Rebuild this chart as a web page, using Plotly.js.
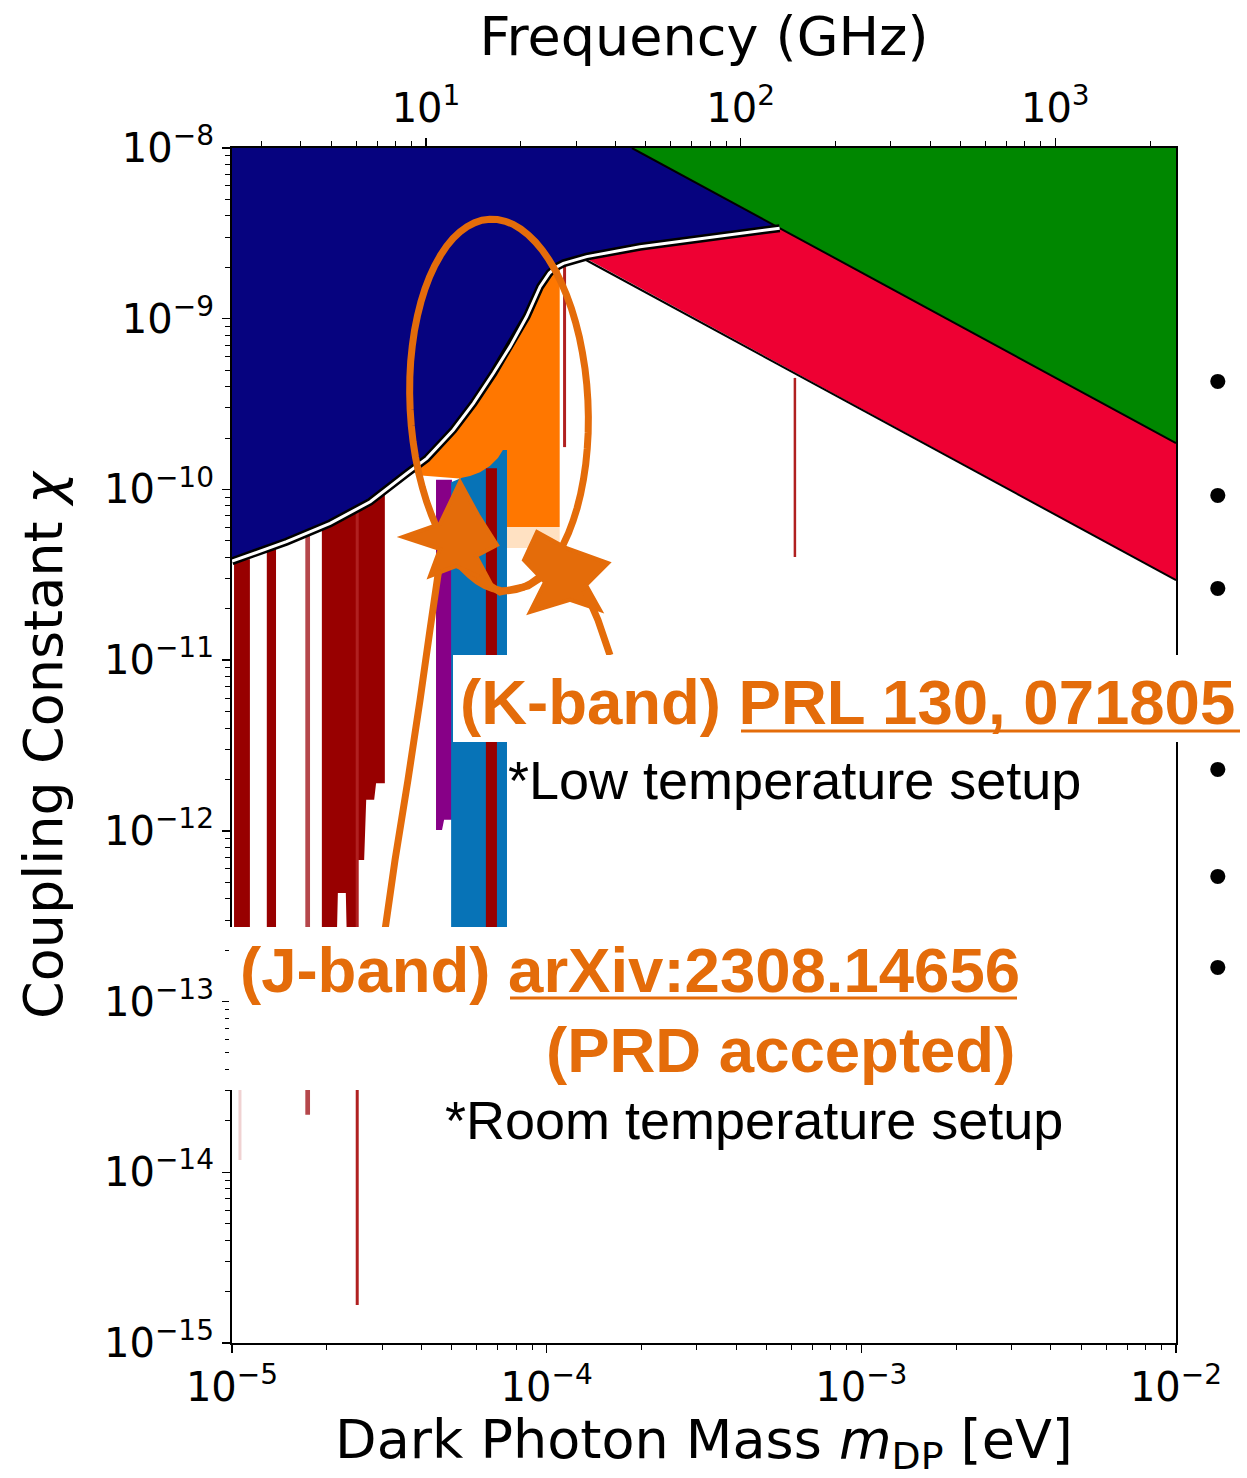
<!DOCTYPE html>
<html><head><meta charset="utf-8">
<script src="https://cdn.plot.ly/plotly-3.0.1.min.js"></script>
<style>body{margin:0;background:#fff}#chart{width:1247px;height:1478px}</style>
</head><body><div id="chart"></div>
<script>
// ---------------- data ----------------
// exclusion boundary (navy region lower edge, drawn with black/white line)
const boundMass = [1.00e-5, 1.49e-5, 2.05e-5, 2.75e-5, 3.59e-5, 4.16e-5, 5.05e-5, 5.85e-5, 6.77e-5, 7.65e-5, 8.64e-5, 9.53e-5, 1.02e-4, 1.07e-4, 1.13e-4, 1.34e-4, 1.98e-4, 5.50e-4];
const boundChi  = [3.80e-11, 4.94e-11, 6.33e-11, 8.47e-11, 1.24e-10, 1.52e-10, 2.23e-10, 3.19e-10, 4.79e-10, 6.86e-10, 1.03e-9, 1.54e-9, 1.85e-9, 2.00e-9, 2.11e-9, 2.31e-9, 2.64e-9, 3.39e-9];
// green region lower edge
const greenLineMass = [1.866e-4, 1.0e-2];
const greenLineChi  = [1.0e-8, 1.87e-10];
// crimson band lower edge
const redLowerMass = [1.32e-4, 1.0e-2];
const redLowerChi  = [2.23e-9, 2.94e-11];
// dark red haloscope bars (rectangles)
const haloBarMass   = [[1.015e-5, 1.14e-5], [1.29e-5, 1.38e-5], [6.41e-5, 6.95e-5]];
const haloBarTop    = [3.9e-11, 4.6e-11, 1.33e-10];
const haloBarBottom = [1.0e-13, 1.0e-13, 1.0e-13];
// lighter narrow bar
const haloLightMass = [1.71e-5, 1.77e-5];
const haloLightTop = 5.6e-11, haloLightBottom = 2.17e-14;
// wide dark red bar with ragged lower edge
const haloWideMass = [1.93e-5, 2.05e-5, 2.75e-5, 3.06e-5, 3.06e-5, 2.87e-5, 2.83e-5, 2.67e-5, 2.63e-5, 2.51e-5, 2.48e-5, 2.34e-5, 2.30e-5, 2.17e-5, 2.13e-5, 1.93e-5];
const haloWideChi  = [5.8e-11, 6.33e-11, 8.47e-11, 9.6e-11, 1.90e-12, 1.90e-12, 1.52e-12, 1.52e-12, 6.75e-13, 6.75e-13, 1.0e-13, 1.0e-13, 4.32e-13, 4.32e-13, 1.0e-13, 1.0e-13];
// thin dark red lines
const haloLineMass   = [2.50e-5, 1.14e-4, 6.15e-4];
const haloLineTop    = [7.6e-11, 2.06e-9, 4.50e-10];
const haloLineBottom = [1.67e-15, 1.77e-10, 4.02e-11];
const faintLineMass = 1.06e-5, faintLineTop = 1.0e-13, faintLineBottom = 1.18e-14;
// purple result
const purpleMass = [4.45e-5, 5.00e-5, 5.00e-5, 4.72e-5, 4.65e-5, 4.45e-5];
const purpleChi  = [1.14e-10, 1.14e-10, 1.16e-12, 1.16e-12, 1.01e-12, 1.01e-12];
// blue result (J-band)
const blueTopMass = [4.97e-5, 5.38e-5, 5.71e-5, 6.14e-5, 6.60e-5, 7.00e-5, 7.26e-5, 7.48e-5];
const blueTopChi  = [1.10e-10, 1.17e-10, 1.20e-10, 1.26e-10, 1.37e-10, 1.53e-10, 1.70e-10, 1.70e-10];
const blueBottomChi = 1.0e-13;
// orange result (K-band)
const kbandMass = [3.90e-5, 4.16e-5, 5.05e-5, 5.85e-5, 6.77e-5, 7.65e-5, 8.64e-5, 9.53e-5, 1.02e-4, 1.10e-4, 1.10e-4, 7.48e-5, 7.48e-5, 3.90e-5];
const kbandChi  = [1.39e-10, 1.52e-10, 2.23e-10, 3.19e-10, 4.79e-10, 6.86e-10, 1.03e-9, 1.54e-9, 1.85e-9, 2.04e-9, 6.03e-11, 6.03e-11, 1.10e-10, 1.21e-10];
const kbandFadeMass = [7.48e-5, 1.10e-4, 1.10e-4, 7.48e-5];
const kbandFadeChi  = [6.03e-11, 6.03e-11, 4.54e-11, 4.54e-11];
// axes
const massRange = [1e-5, 1e-2];
const chiRange = [1e-15, 1e-8];
const massTicks = [1e-5, 1e-4, 1e-3, 1e-2];
const massTickText = ['10<sup>−5</sup>', '10<sup>−4</sup>', '10<sup>−3</sup>', '10<sup>−2</sup>'];
const chiTicks = [1e-15, 1e-14, 1e-13, 1e-12, 1e-11, 1e-10, 1e-9, 1e-8];
const chiTickText = ['10<sup>−15</sup>', '10<sup>−14</sup>', '10<sup>−13</sup>', '10<sup>−12</sup>', '10<sup>−11</sup>', '10<sup>−10</sup>', '10<sup>−9</sup>', '10<sup>−8</sup>'];
const freqTicks = [10, 100, 1000];
const freqTickText = ['10<sup>1</sup>', '10<sup>2</sup>', '10<sup>3</sup>'];
const EV_PER_GHZ = 4.135667e-6;

// ---------------- colours ----------------
const C = {navy:'#06037f', green:'#008700', crimson:'#ee0033', darkred:'#980000', darkredLine:'#b02020',
  lightred:'#b5474b', faint:'#f0d2d2', purple:'#870087', blue:'#0773b7', orange:'#ff7700', orangeFade:'#ffe1c2', mark:'#e46c0a'};

// ---------------- traces ----------------
const traces = [];
function poly(xs, ys, color){ traces.push({type:'scatter', mode:'lines', x:xs, y:ys, fill:'toself', fillcolor:color, line:{width:0, color:color}, hoverinfo:'skip'}); }
function seg(xs, ys, color, width){ traces.push({type:'scatter', mode:'lines', x:xs, y:ys, line:{color:color, width:width}, hoverinfo:'skip'}); }

haloBarMass.forEach((m,i)=>{ if(i<2) poly([m[0],m[1],m[1],m[0]],[haloBarTop[i],haloBarTop[i],haloBarBottom[i],haloBarBottom[i]], C.darkred); });
poly([haloLightMass[0],haloLightMass[1],haloLightMass[1],haloLightMass[0]],[haloLightTop,haloLightTop,haloLightBottom,haloLightBottom], C.lightred);
seg([faintLineMass, faintLineMass],[faintLineTop, faintLineBottom], C.faint, 3);
poly(haloWideMass, haloWideChi, C.darkred);
seg([haloLineMass[0],haloLineMass[0]],[haloLineTop[0],haloLineBottom[0]], C.darkredLine, 3);
// K-band
poly(kbandMass, kbandChi, C.orange);
poly(kbandFadeMass, kbandFadeChi, C.orangeFade);
// purple & blue
poly(purpleMass, purpleChi, C.purple);
poly(blueTopMass.concat([blueTopMass[blueTopMass.length-1], blueTopMass[0]]), blueTopChi.concat([blueBottomChi, blueBottomChi]), C.blue);
{ const m = haloBarMass[2]; poly([m[0],m[1],m[1],m[0]],[haloBarTop[2],haloBarTop[2],haloBarBottom[2],haloBarBottom[2]], C.darkred); }
seg([haloLineMass[1],haloLineMass[1]],[haloLineTop[1],haloLineBottom[1]], C.darkredLine, 3);
seg([haloLineMass[2],haloLineMass[2]],[haloLineTop[2],haloLineBottom[2]], C.darkredLine, 2.5);
// navy region
poly(boundMass.slice().reverse().concat([massRange[0], greenLineMass[0]]),
     boundChi.slice().reverse().concat([chiRange[1], chiRange[1]]), C.navy);
// green region
poly([greenLineMass[0], massRange[1], massRange[1]], [chiRange[1], chiRange[1], greenLineChi[1]], C.green);
// crimson band
const kink = boundMass.findIndex(v => v >= 1.34e-4);
poly([redLowerMass[0]].concat(boundMass.slice(kink), [massRange[1], massRange[1]]),
     [redLowerChi[0] * 1.02].concat(boundChi.slice(kink), [greenLineChi[1], redLowerChi[1]]), C.crimson);
// outlines
seg(greenLineMass, greenLineChi, '#000', 2);
seg(redLowerMass, redLowerChi, '#000', 2);
seg(boundMass, boundChi, '#000', 8);
seg(boundMass, boundChi, '#fff', 3);
// dummy trace for the frequency axis
traces.push({type:'scatter', mode:'markers', x:[10], y:[1e-12], xaxis:'x2', yaxis:'y', marker:{opacity:0}, hoverinfo:'skip'});

// ---------------- minor ticks ----------------
function minors(d0, d1){ const v=[]; for(let d=d0; d<d1; d++) for(let k=2;k<=9;k++){ v.push(k*Math.pow(10,d)); } return v; }
const massMinor = minors(-5,-2);
const chiMinor = minors(-15,-8);
const freqMinor = [3,4,5,6,7,8,9].concat(minors(1,3), [2000]);

// ---------------- geometry helpers for overlay ----------------
const PL=232, PR=1176, PT=148, PB=1343;
const fx = p => (p-PL)/(PR-PL);
const fy = p => (PB-p)/(PB-PT);
function pathOf(pts, close){ return pts.map((p,i)=>(i?'L':'M')+fx(p[0]).toFixed(4)+','+fy(p[1]).toFixed(4)).join(' ') + (close?' Z':''); }
const ell = []; for(let i=0;i<=72;i++){ const a=i/72*2*Math.PI; const t=-0.05; const ex=89*Math.cos(a), ey=186*Math.sin(a);
  ell.push([499 + ex*Math.cos(t) - ey*Math.sin(t), 405 + ex*Math.sin(t) + ey*Math.cos(t)]); }
const arrow1 = [[385,930],[395,860],[408,780],[420,700],[430,630],[438,575],[448,530]];
const head1 = [[460,482],[478,515],[497,545],[476,556],[490,582],[456,566],[430,576],[440,549],[403,537],[440,524]];
const connector = [[478,578],[500,592],[528,586],[545,575]];
const head2 = [[537,532],[566,548],[608,563],[586,585],[600,610],[570,600],[530,612],[545,582],[524,560]];
const arrow2 = [[585,590],[598,620],[610,655]];
const markLine = {color:C.mark, width:7};

const shapes = [
  {type:'path', xref:'paper', yref:'paper', path:pathOf(ell,true), line:markLine, layer:'above'},
  {type:'path', xref:'paper', yref:'paper', path:pathOf(arrow1,false), line:markLine, layer:'above'},
  {type:'path', xref:'paper', yref:'paper', path:pathOf(head1,true), line:{color:C.mark,width:4}, fillcolor:C.mark, layer:'above'},
  {type:'path', xref:'paper', yref:'paper', path:pathOf(connector,false), line:markLine, layer:'above'},
  {type:'path', xref:'paper', yref:'paper', path:pathOf(head2,true), line:{color:C.mark,width:4}, fillcolor:C.mark, layer:'above'},
  {type:'path', xref:'paper', yref:'paper', path:pathOf(arrow2,false), line:markLine, layer:'above'},
  // white label boxes
  {type:'rect', xref:'paper', yref:'paper', x0:fx(453), x1:fx(1247), y0:fy(742), y1:fy(655), fillcolor:'#fff', line:{width:0}, layer:'above'},
  {type:'rect', xref:'paper', yref:'paper', x0:fx(229), x1:fx(1022), y0:fy(1090), y1:fy(927), fillcolor:'#fff', line:{width:0}, layer:'above'},
  // underlines
  {type:'line', xref:'paper', yref:'paper', x0:fx(741), x1:fx(1240), y0:fy(731), y1:fy(731), line:{color:C.mark, width:3}, layer:'above'},
  {type:'line', xref:'paper', yref:'paper', x0:fx(510), x1:fx(1017), y0:fy(998), y1:fy(998), line:{color:C.mark, width:3}, layer:'above'}
];

const bold = {family:'Liberation Sans, Arial, sans-serif', size:63.5, color:C.mark};
const plain = {family:'Liberation Sans, Arial, sans-serif', size:54, color:'#000'};
const annotations = [
  {xref:'paper', yref:'paper', x:fx(458), y:fy(702), xanchor:'left', yanchor:'middle', showarrow:false, text:'<b>(K-band) PRL 130, 071805</b>', font:bold},
  {xref:'paper', yref:'paper', x:fx(506), y:fy(780), xanchor:'left', yanchor:'middle', showarrow:false, text:'*Low temperature setup', font:plain},
  {xref:'paper', yref:'paper', x:fx(238), y:fy(970), xanchor:'left', yanchor:'middle', showarrow:false, text:'<b>(J-band) arXiv:2308.14656</b>', font:bold},
  {xref:'paper', yref:'paper', x:fx(1017), y:fy(1050), xanchor:'right', yanchor:'middle', showarrow:false, text:'<b>(PRD accepted)</b>', font:bold},
  {xref:'paper', yref:'paper', x:fx(443), y:fy(1120), xanchor:'left', yanchor:'middle', showarrow:false, text:'*Room temperature setup', font:plain}
];
[380, 495, 587, 768, 875, 966].forEach(yy => annotations.push({xref:'paper', yref:'paper', x:fx(1218), y:fy(yy), xanchor:'center', yanchor:'middle', showarrow:false, text:'•', font:{family:'Liberation Sans, Arial', size:56, color:'#000'}}));

const tickFont = {family:'DejaVu Sans', size:40, color:'#000'};
const titleFont = {family:'DejaVu Sans', size:54, color:'#000'};
const axBase = {type:'log', ticks:'outside', ticklen:8, tickwidth:1.5, tickcolor:'#000', showline:true, linecolor:'#000', linewidth:2,
  showgrid:false, zeroline:false, tickfont:tickFont, automargin:false, tickmode:'array'};

const layout = {
  width:1247, height:1478,
  margin:{l:PL, r:1247-PR, t:PT, b:1478-PB, pad:0},
  paper_bgcolor:'#fff', plot_bgcolor:'#fff', showlegend:false,
  font:{family:'DejaVu Sans', color:'#000'},
  xaxis:Object.assign({}, axBase, {range:[Math.log10(massRange[0]), Math.log10(massRange[1])], tickvals:massTicks, ticktext:massTickText, mirror:true,
    minor:{tickmode:'array', tickvals:massMinor, ticks:'outside', ticklen:5, tickwidth:1, tickcolor:'#000', showgrid:false},
    title:{text:'Dark Photon Mass <i>m</i><sub>DP</sub> [eV]', font:titleFont, standoff:36}}),
  xaxis2:Object.assign({}, axBase, {overlaying:'x', side:'top', anchor:'y',
    range:[Math.log10(massRange[0]/EV_PER_GHZ), Math.log10(massRange[1]/EV_PER_GHZ)], tickvals:freqTicks, ticktext:freqTickText,
    minor:{tickmode:'array', tickvals:freqMinor, ticks:'outside', ticklen:5, tickwidth:1, tickcolor:'#000', showgrid:false},
    title:{text:'Frequency (GHz)', font:titleFont, standoff:6}}),
  yaxis:Object.assign({}, axBase, {range:[Math.log10(chiRange[0]), Math.log10(chiRange[1])], tickvals:chiTicks, ticktext:chiTickText, mirror:true,
    minor:{tickmode:'array', tickvals:chiMinor, ticks:'outside', ticklen:5, tickwidth:1, tickcolor:'#000', showgrid:false},
    title:{text:'Coupling Constant <i>χ</i>', font:titleFont, standoff:24}}),
  shapes:shapes,
  annotations:annotations
};
Plotly.newPlot('chart', traces, layout, {displayModeBar:false, staticPlot:true});
</script>
</body></html>
